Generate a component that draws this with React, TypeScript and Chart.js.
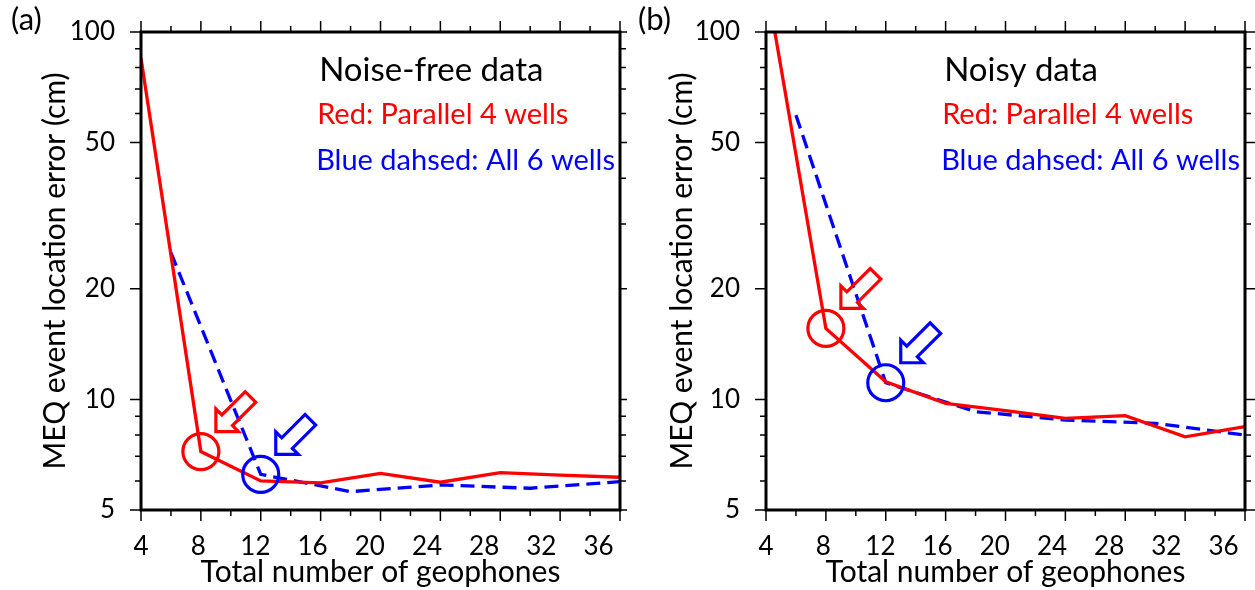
import React, { useEffect, useRef } from "react";
import { Chart, registerables } from "chart.js";
Chart.register(...registerables);

// ---- data ----
const X_RED = [4, 8, 12, 16, 20, 24, 28, 32, 36];
const X_BLUE = [6, 12, 18, 24, 30, 36];
const RED_FREE = [84.8, 7.21, 6.0, 5.93, 6.29, 5.95, 6.32, 6.22, 6.14];
const BLUE_FREE = [25.1, 6.25, 5.61, 5.85, 5.73, 5.97];
const RED_NOISY = [138, 15.6, 11.17, 9.76, 9.32, 8.88, 9.03, 7.91, 8.43];
const BLUE_NOISY = [59.4, 11.1, 9.26, 8.79, 8.61, 8.0];
const X_TICKS = [4, 6, 8, 10, 12, 14, 16, 18, 20, 22, 24, 26, 28, 30, 32, 34, 36];
const X_LABELS = [4, 8, 12, 16, 20, 24, 28, 32, 36];
const Y_TICKS = [5, 6, 7, 8, 9, 10, 20, 30, 40, 50, 60, 70, 80, 90, 100];
const Y_LABELS = [5, 10, 20, 50, 100];
const PANEL_TAGS = ["(a)", "(b)"];
const PANEL_TITLES = ["Noise-free data", "Noisy data"];
const LEGEND_RED = "Red: Parallel 4 wells";
const LEGEND_BLUE = "Blue dahsed: All 6 wells";
const X_TITLE = "Total number of geophones";
const Y_TITLE = "MEQ event location error (cm)";
// index of the highlighted (circled) point in each series
const HIGHLIGHT_RED = 1;
const HIGHLIGHT_BLUE = 1;
// annotation text anchor (data units)
const TEXT_X = 15.9;
const TEXT_Y = [73.6, 56.2, 42.1];
// the printed tick labels in the source figure are spaced slightly tighter than its ticks
const LABEL_AXIS_MAX = 37.5;

const RED = "#ff0000";
const BLUE = "#0000ff";
const FONT = "Lato";

const annotPlugin = {
  id: "figAnnot",
  afterDatasetsDraw(chart: any, _args: any, opts: any) {
    const ctx = chart.ctx;
    const xs = chart.scales.x;
    const ys = chart.scales.y;
    const { left, right, top, bottom } = chart.chartArea;
    ctx.save();
    // ticks
    ctx.strokeStyle = "#000";
    ctx.lineWidth = 1.5;
    ctx.beginPath();
    X_TICKS.forEach((v) => {
      const px = xs.getPixelForValue(v);
      const len = X_LABELS.includes(v) ? 11 : 6;
      ctx.moveTo(px, bottom);
      ctx.lineTo(px, bottom + len);
      ctx.moveTo(px, top);
      ctx.lineTo(px, top - len);
    });
    Y_TICKS.forEach((v) => {
      const py = ys.getPixelForValue(v);
      const len = Y_LABELS.includes(v) ? 11 : 6;
      ctx.moveTo(left, py);
      ctx.lineTo(left - len, py);
      ctx.moveTo(right, py);
      ctx.lineTo(right + len, py);
    });
    ctx.stroke();
    // box
    ctx.lineWidth = 3;
    ctx.strokeRect(left, top, right - left, bottom - top);

    // circles and arrows
    const marks = [
      { ds: 0, idx: HIGHLIGHT_RED, color: RED },
      { ds: 1, idx: HIGHLIGHT_BLUE, color: BLUE },
    ];
    marks.forEach((m) => {
      const pt = chart.data.datasets[m.ds].data[m.idx];
      const cx = xs.getPixelForValue(pt.x);
      const cy = ys.getPixelForValue(pt.y);
      ctx.strokeStyle = m.color;
      ctx.lineWidth = 3.2;
      ctx.beginPath();
      ctx.arc(cx, cy, 18, 0, Math.PI * 2);
      ctx.stroke();
      // hollow block arrow pointing down-left at the circle
      const tx = cx + 15;
      const ty = cy - 20;
      const ux = Math.SQRT1_2, uy = -Math.SQRT1_2;
      const vx = Math.SQRT1_2, vy = Math.SQRT1_2;
      const HL = 16, HW = 16, SW = 7.5, L = 49;
      const p = (a: number, b: number) => [tx + ux * a + vx * b, ty + uy * a + vy * b];
      const pts = [p(0, 0), p(HL, HW), p(HL, SW), p(L, SW), p(L, -SW), p(HL, -SW), p(HL, -HW)];
      ctx.lineJoin = "miter";
      ctx.beginPath();
      pts.forEach(([x, y], i) => (i ? ctx.lineTo(x, y) : ctx.moveTo(x, y)));
      ctx.closePath();
      ctx.stroke();
    });

    // texts
    const tx = xs.getPixelForValue(TEXT_X);
    ctx.textBaseline = "alphabetic";
    ctx.textAlign = "left";
    ctx.fillStyle = "#000";
    ctx.font = `33px ${FONT}`;
    ctx.fillText(opts.title, tx, ys.getPixelForValue(TEXT_Y[0]));
    ctx.font = `29px ${FONT}`;
    ctx.fillStyle = RED;
    ctx.fillText(LEGEND_RED, tx - 2, ys.getPixelForValue(TEXT_Y[1]));
    ctx.fillStyle = BLUE;
    ctx.fillText(LEGEND_BLUE, tx - 3, ys.getPixelForValue(TEXT_Y[2]));
    // panel tag
    ctx.fillStyle = "#000";
    ctx.font = `31px ${FONT}`;
    ctx.fillText(opts.tag, 11, 30);
    ctx.restore();
  },
};

function makeConfig(red: number[], blue: number[], title: string, tag: string, yWidth: number, padRight: number) {
  const tickFont = { family: FONT, size: 26 };
  const titleFont = { family: FONT, size: 30 };
  const zeroPad = (s: any) => {
    s.paddingLeft = 0;
    s.paddingRight = 0;
    s.paddingTop = 0;
    s.paddingBottom = 0;
  };
  return {
    type: "line",
    data: {
      datasets: [
        {
          data: X_RED.map((x, i) => ({ x, y: red[i] })),
          borderColor: RED,
          borderWidth: 3.3,
          pointRadius: 0,
          tension: 0,
          fill: false,
        },
        {
          data: X_BLUE.map((x, i) => ({ x, y: blue[i] })),
          borderColor: BLUE,
          borderWidth: 3.3,
          borderDash: [14, 7],
          pointRadius: 0,
          tension: 0,
          fill: false,
        },
      ],
    },
    options: {
      animation: false,
      responsive: false,
      devicePixelRatio: 1,
      layout: { padding: { left: 0, right: padRight, top: 32, bottom: 0 } },
      plugins: {
        legend: { display: false },
        tooltip: { enabled: false },
        figAnnot: { title, tag },
      },
      scales: {
        x: {
          type: "linear",
          min: 4,
          max: 36,
          display: false,
          afterBuildTicks: (s: any) => {
            s.ticks = X_TICKS.map((v) => ({ value: v }));
          },
          afterFit: zeroPad,
        },
        xl: {
          type: "linear",
          position: "bottom",
          min: 4,
          max: LABEL_AXIS_MAX,
          afterBuildTicks: (s: any) => {
            s.ticks = X_LABELS.map((v) => ({ value: v }));
          },
          afterFit: (s: any) => {
            s.height = 80;
            zeroPad(s);
          },
          grid: { display: false, drawTicks: false },
          border: { display: false },
          ticks: {
            autoSkip: false,
            maxRotation: 0,
            padding: 21,
            color: "#000",
            font: tickFont,
            callback: (v: any) => String(v),
          },
          title: { display: true, text: X_TITLE, color: "#000", font: titleFont, padding: 0 },
        },
        y: {
          type: "logarithmic",
          min: 5,
          max: 100,
          afterBuildTicks: (s: any) => {
            s.ticks = Y_TICKS.map((v) => ({ value: v }));
          },
          afterFit: (s: any) => {
            s.width = yWidth;
            zeroPad(s);
          },
          grid: { display: false, drawTicks: false },
          border: { display: false },
          ticks: {
            autoSkip: false,
            padding: 26,
            color: "#000",
            font: tickFont,
            callback: (v: any) => (Y_LABELS.includes(Number(v)) ? String(v) : ""),
          },
          title: { display: true, text: Y_TITLE, color: "#000", font: titleFont, padding: { top: 37, bottom: 0 } },
        },
      },
    },
    plugins: [annotPlugin],
  };
}

function Panel({ left, width, red, blue, title, tag, yWidth, padRight }: any) {
  const ref = useRef<HTMLCanvasElement>(null);
  useEffect(() => {
    const chart = new Chart(ref.current as any, makeConfig(red, blue, title, tag, yWidth, padRight) as any);
    return () => chart.destroy();
  }, []);
  return (
    <canvas
      ref={ref}
      width={width}
      height={590}
      style={{ position: "absolute", left, top: 0, width, height: 590 }}
    />
  );
}

export default function App() {
  return (
    <div style={{ position: "fixed", left: 0, top: 0, width: 1255, height: 590, background: "#fff", overflow: "hidden" }}>
      <Panel left={0} width={627} red={RED_FREE} blue={BLUE_FREE} title={PANEL_TITLES[0]} tag={PANEL_TAGS[0]} yWidth={141} padRight={7} />
      <Panel left={627} width={628} red={RED_NOISY} blue={BLUE_NOISY} title={PANEL_TITLES[1]} tag={PANEL_TAGS[1]} yWidth={139} padRight={10} />
    </div>
  );
}
